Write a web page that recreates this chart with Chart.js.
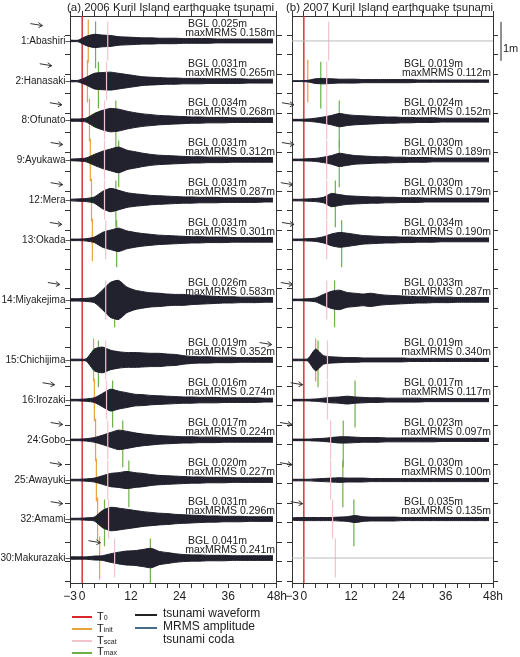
<!DOCTYPE html>
<html><head><meta charset="utf-8">
<script src="https://cdn.jsdelivr.net/npm/chart.js@4.4.0/dist/chart.umd.min.js"></script>
<style>
body{margin:0;background:#fff;font-family:"Liberation Sans",Arial,sans-serif;}
#wrap{position:relative;width:520px;height:657px;}
canvas{position:absolute;}
.lg{position:absolute;font-size:11px;color:#222;line-height:11px;white-space:nowrap;}
.lg span{font-size:7px;}
.ln{position:absolute;height:1.5px;width:20px;}
</style></head><body>
<div id="wrap">
<canvas id="ca" style="left:0;top:0" width="288" height="610"></canvas>
<canvas id="cb" style="left:280px;top:0" width="240" height="610"></canvas>
<div class="ln" style="left:72px;top:616px;background:#d62828"></div><div class="lg" style="left:97px;top:611px">T<span>0</span></div>
<div class="ln" style="left:72px;top:628px;background:#e8a33a"></div><div class="lg" style="left:97px;top:623px">T<span>init</span></div>
<div class="ln" style="left:72px;top:640px;background:#f2c4cc"></div><div class="lg" style="left:97px;top:635px">T<span>scat</span></div>
<div class="ln" style="left:72px;top:652px;background:#6fb04a"></div><div class="lg" style="left:97px;top:646px">T<span>max</span></div>
<div class="ln" style="left:135px;top:614px;background:#222;width:22px"></div><div class="lg" style="left:163px;top:608px;font-size:12px">tsunami waveform</div>
<div class="ln" style="left:135px;top:627px;background:#4a6a8a;width:22px"></div><div class="lg" style="left:163px;top:621px;font-size:12px">MRMS amplitude</div>
<div class="lg" style="left:163px;top:634px;font-size:12px">tsunami coda</div>
</div>
<script>
const stations = ['1:Abashiri','2:Hanasaki','8:Ofunato','9:Ayukawa','12:Mera','13:Okada','14:Miyakejima','15:Chichijima','16:Irozaki','24:Gobo','25:Awayuki','32:Amami','30:Makurazaki'];
const baseline = [0.64,1.67,2.67,3.69,4.72,5.74,7.28,8.82,9.85,10.87,11.9,12.9,13.9];
const hours = [-3,-1,1,3,5,7,9,11,13,15,17,19,21,23,25,27,29,31,33,35,37,39,41,43,45,47];

// waveform half-amplitude envelopes (m), 2006 event
const envA = [
 [0.02,0.02,0.12,0.17,0.15,0.14,0.11,0.1,0.09,0.08,0.08,0.07,0.07,0.07,0.06,0.06,0.06,0.06,0.05,0.05,0.05,0.05,0.05,0.05,0.05,0.05],
 [0.02,0.02,0.1,0.2,0.22,0.23,0.2,0.17,0.14,0.11,0.1,0.09,0.08,0.08,0.07,0.07,0.07,0.06,0.06,0.06,0.06,0.06,0.05,0.05,0.05,0.05],
 [0.03,0.03,0.05,0.17,0.25,0.3,0.28,0.23,0.19,0.16,0.14,0.12,0.11,0.1,0.09,0.08,0.08,0.07,0.07,0.07,0.06,0.06,0.06,0.06,0.06,0.06],
 [0.02,0.03,0.05,0.14,0.22,0.28,0.33,0.25,0.21,0.17,0.14,0.12,0.11,0.1,0.09,0.08,0.08,0.07,0.07,0.07,0.06,0.06,0.06,0.06,0.06,0.06],
 [0.02,0.03,0.04,0.08,0.22,0.3,0.25,0.19,0.16,0.14,0.12,0.11,0.1,0.09,0.08,0.08,0.07,0.07,0.07,0.06,0.06,0.06,0.06,0.06,0.05,0.05],
 [0.02,0.02,0.03,0.07,0.19,0.25,0.3,0.23,0.19,0.16,0.14,0.12,0.11,0.1,0.09,0.08,0.08,0.07,0.07,0.07,0.06,0.06,0.06,0.06,0.06,0.06],
 [0.03,0.03,0.04,0.07,0.25,0.45,0.5,0.33,0.25,0.21,0.18,0.17,0.15,0.14,0.14,0.12,0.11,0.1,0.09,0.08,0.08,0.07,0.07,0.07,0.06,0.06],
 [0.02,0.02,0.03,0.28,0.33,0.25,0.21,0.19,0.19,0.18,0.17,0.17,0.15,0.14,0.11,0.09,0.08,0.08,0.07,0.07,0.07,0.06,0.06,0.06,0.06,0.06],
 [0.02,0.02,0.03,0.06,0.17,0.28,0.23,0.19,0.15,0.14,0.12,0.11,0.1,0.09,0.08,0.08,0.07,0.07,0.07,0.06,0.06,0.06,0.06,0.06,0.05,0.05],
 [0.02,0.02,0.03,0.06,0.12,0.19,0.25,0.22,0.18,0.15,0.13,0.11,0.1,0.09,0.08,0.08,0.07,0.07,0.07,0.06,0.06,0.06,0.06,0.06,0.06,0.06],
 [0.02,0.02,0.03,0.05,0.11,0.17,0.19,0.22,0.19,0.17,0.14,0.12,0.11,0.1,0.09,0.08,0.08,0.07,0.07,0.07,0.06,0.06,0.06,0.06,0.06,0.06],
 [0.02,0.02,0.03,0.05,0.22,0.3,0.28,0.25,0.22,0.19,0.17,0.15,0.14,0.12,0.11,0.1,0.09,0.08,0.08,0.07,0.07,0.07,0.06,0.06,0.06,0.06],
 [0.03,0.03,0.03,0.05,0.06,0.11,0.15,0.18,0.19,0.22,0.25,0.17,0.14,0.11,0.09,0.08,0.08,0.07,0.07,0.07,0.06,0.06,0.06,0.06,0.06,0.06]
];
// 2007 event (null = no record)
const envB = [
 null,
 [0.01,0.01,0.02,0.06,0.07,0.06,0.05,0.05,0.05,0.04,0.04,0.04,0.04,0.04,0.04,0.04,0.03,0.03,0.03,0.03,0.03,0.03,0.03,0.03,0.03,0.03],
 [0.02,0.02,0.03,0.05,0.08,0.12,0.17,0.14,0.12,0.11,0.1,0.09,0.08,0.08,0.07,0.07,0.06,0.06,0.06,0.05,0.05,0.05,0.05,0.05,0.05,0.05],
 [0.02,0.02,0.03,0.04,0.07,0.11,0.17,0.14,0.11,0.1,0.09,0.08,0.08,0.07,0.07,0.06,0.06,0.06,0.05,0.05,0.05,0.05,0.05,0.05,0.05,0.05],
 [0.02,0.02,0.03,0.04,0.07,0.17,0.14,0.11,0.1,0.09,0.08,0.08,0.07,0.07,0.06,0.06,0.06,0.05,0.05,0.05,0.05,0.05,0.05,0.05,0.05,0.05],
 [0.02,0.02,0.03,0.04,0.08,0.15,0.19,0.17,0.14,0.11,0.1,0.09,0.08,0.08,0.07,0.07,0.06,0.06,0.06,0.05,0.05,0.05,0.05,0.05,0.05,0.05],
 [0.02,0.02,0.03,0.05,0.14,0.22,0.25,0.19,0.17,0.15,0.17,0.14,0.12,0.11,0.1,0.09,0.08,0.08,0.07,0.07,0.07,0.06,0.06,0.06,0.06,0.06],
 [0.02,0.02,0.03,0.28,0.11,0.08,0.07,0.06,0.06,0.05,0.05,0.05,0.05,0.05,0.05,0.04,0.04,0.04,0.04,0.04,0.04,0.04,0.04,0.04,0.04,0.04],
 [0.02,0.02,0.02,0.03,0.05,0.07,0.08,0.1,0.08,0.07,0.06,0.06,0.05,0.05,0.05,0.05,0.05,0.04,0.04,0.04,0.04,0.04,0.04,0.04,0.04,0.04],
 [0.02,0.02,0.02,0.03,0.04,0.06,0.08,0.08,0.07,0.06,0.06,0.06,0.05,0.05,0.05,0.05,0.05,0.05,0.05,0.04,0.04,0.04,0.04,0.04,0.04,0.04],
 [0.02,0.02,0.02,0.03,0.04,0.05,0.06,0.05,0.05,0.05,0.04,0.04,0.04,0.04,0.04,0.04,0.04,0.04,0.04,0.04,0.04,0.04,0.04,0.04,0.04,0.04],
 [0.03,0.04,0.04,0.04,0.04,0.04,0.05,0.06,0.09,0.06,0.05,0.05,0.05,0.05,0.04,0.04,0.04,0.04,0.04,0.04,0.04,0.04,0.04,0.04,0.04,0.04],
 null
];
const bglA = ['0.025','0.031','0.034','0.031','0.031','0.031','0.026','0.019','0.016','0.017','0.020','0.031','0.041'];
const mrmsA = ['0.158','0.265','0.268','0.312','0.287','0.301','0.583','0.352','0.274','0.224','0.227','0.296','0.241'];
const bglB = [null,'0.019','0.024','0.030','0.030','0.034','0.033','0.019','0.017','0.023','0.030','0.035',null];
const mrmsB = [null,'0.112','0.152','0.189','0.179','0.190','0.287','0.340','0.117','0.097','0.100','0.135',null];

// characteristic times (h)
const tInitA = [1.5,1.3,1.8,2,2.3,2.5,null,2.8,3,3.3,3.5,3.8,4.3];
const tScatA = [6.3,6,5.5,5.5,5.5,5.8,5.8,5.8,6,6.3,6.3,6.5,8];
const tMaxA  = [3.3,4,8.3,9,8.3,8.5,8,4,7.5,10,11.5,5.5,16.8];
const tArrowA = [-9.8,-7.5,-5,-4.8,-4.8,-5,-5.5,46.7,-6.8,-4.8,-5,-4.8,4.5];
const tInitB = [null,1,null,null,null,null,null,3,null,null,null,null,null];
const tScatB = [6.3,5.8,5.8,5.8,5.8,5.8,5.8,6,6,6.8,6.8,7.3,8];
const tMaxB  = [null,4.3,9,9,8,9.6,7.8,3.6,13,10,9.9,12.7,null];
const tArrowB = [null,null,-2.5,-2.5,-2.8,-2.5,-2.8,null,-0.3,-3,-3,-0.3,null];

const yMax = 14.54;

function waveSets(env){
  const sets = [];
  env.forEach((e,i)=>{
    if(!e) return;
    sets.push({data:hours.map((h,k)=>({x:h,y:baseline[i]-e[k]})),borderColor:'#1c1c28',borderWidth:1,pointRadius:0,tension:0.2,fill:false});
    sets.push({data:hours.map((h,k)=>({x:h,y:baseline[i]+e[k]})),borderColor:'#1c1c28',borderWidth:1,pointRadius:0,tension:0.2,fill:'-1',backgroundColor:'#22222e'});
    sets.push({data:hours.map((h,k)=>({x:h,y:baseline[i]-e[k]*0.45})),borderColor:'#5a7fa5',borderWidth:0.8,pointRadius:0,tension:0.3,fill:false});
  });
  return sets;
}
function markSets(times,color,half,shift){
  return times.map((t,i)=>t===null?null:{data:[{x:t,y:baseline[i]-half+shift},{x:t,y:baseline[i]+half+shift}],borderColor:color,borderWidth:1.2,pointRadius:0,fill:false}).filter(Boolean);
}
function grayLines(env){
  return env.map((e,i)=>e?null:{data:[{x:-3,y:baseline[i]},{x:48,y:baseline[i]}],borderColor:'#bbb',borderWidth:1,pointRadius:0}).filter(Boolean);
}

function makeChart(id,env,tInit,tScat,tMax,tArrow,bgl,mrms,title,pad,isA){
  const datasets = [
    ...grayLines(env),
    ...markSets(tScat,'#f2c4cc',0.5,0),
    ...waveSets(env),
    ...markSets(tInit,'#e8a33a',0.55,0),
    ...markSets(tMax,'#6fb04a',0.6,0.1),
    {data:[{x:0,y:0},{x:0,y:yMax}],borderColor:'#d62828',borderWidth:1.4,pointRadius:0}
  ];
  const fix = (w)=>s=>{ if(s.isHorizontal()) s.height=w; else s.width=w; };
  const annot = {
    id:'annot',
    afterDraw(c){
      const ctx=c.ctx, xs=c.scales.x, ys=c.scales.y, a=c.chartArea;
      ctx.save();
      ctx.fillStyle='#222';
      ctx.font='11.5px "Liberation Sans", Arial, sans-serif';
      ctx.textAlign='center'; ctx.textBaseline='middle';
      ctx.fillText(title,(a.left+a.right)/2-3,8);
      ctx.textAlign='right';
      baseline.forEach((b,i)=>{
        const y=ys.getPixelForValue(b);
        if(isA){ ctx.font='10px "Liberation Sans", Arial, sans-serif'; ctx.fillText(stations[i]+'–',a.left+1,y); }
        ctx.font='10.5px "Liberation Sans", Arial, sans-serif';
        if(bgl[i]){
          ctx.fillText('BGL '+bgl[i]+'m',a.right-30,ys.getPixelForValue(b-0.44));
          ctx.fillText('maxMRMS '+mrms[i]+'m',a.right-2,ys.getPixelForValue(b-0.21));
        }
        if(tArrow[i]!==null){
          const xt=xs.getPixelForValue(tArrow[i]), ya=ys.getPixelForValue(b-0.42);
          ctx.strokeStyle='#333'; ctx.lineWidth=1;
          ctx.beginPath(); ctx.moveTo(xt-12,ya-1); ctx.lineTo(xt,ya+1); ctx.stroke();
          ctx.beginPath(); ctx.moveTo(xt-4,ya-2); ctx.lineTo(xt,ya+1); ctx.lineTo(xt-4,ya+3); ctx.stroke();
        }
      });
      if(!isA){
        ctx.strokeStyle='#222'; ctx.lineWidth=1;
        const x=a.right+8;
        ctx.beginPath(); ctx.moveTo(x,ys.getPixelForValue(0.15)); ctx.lineTo(x,ys.getPixelForValue(1.15)); ctx.stroke();
        ctx.textAlign='left'; ctx.font='11px "Liberation Sans", Arial, sans-serif';
        ctx.fillText('1m',x+2,ys.getPixelForValue(0.85));
      }
      ctx.restore();
    }
  };
  const grid = {drawOnChartArea:false,tickLength:5,color:'#333'};
  return new Chart(document.getElementById(id),{
    type:'line',
    data:{datasets},
    options:{
      responsive:false,animation:false,
      layout:{padding:pad},
      plugins:{legend:{display:false},tooltip:{enabled:false}},
      scales:{
        x:{type:'linear',min:-3,max:48,afterFit:fix(20),
          afterBuildTicks:s=>{s.ticks=[];for(let v=-3;v<=48;v+=3)s.ticks.push({value:v});},
          grid,border:{color:'#333'},
          ticks:{autoSkip:false,maxRotation:0,padding:1,color:'#222',font:{size:12,family:'"Liberation Sans", Arial'},
            callback:v=>v===48?'48h':(v===-3?'−3':([0,12,24,36].includes(v)?String(v):''))}},
        xt:{type:'linear',position:'top',min:-3,max:48,afterFit:fix(6),
          afterBuildTicks:s=>{s.ticks=[];for(let v=-3;v<=48;v+=3)s.ticks.push({value:v});},
          grid,border:{color:'#333'},ticks:{display:false}},
        y:{type:'linear',reverse:true,min:0,max:yMax,afterFit:fix(6),
          afterBuildTicks:s=>{s.ticks=[];for(let v=0.5;v<yMax;v+=0.5)s.ticks.push({value:v});},
          grid,border:{color:'#333'},ticks:{display:false}},
        yr:{type:'linear',position:'right',reverse:true,min:0,max:yMax,afterFit:fix(6),
          afterBuildTicks:s=>{s.ticks=[];for(let v=0.5;v<yMax;v+=0.5)s.ticks.push({value:v});},
          grid,border:{color:'#333'},ticks:{display:false}}
      }
    },
    plugins:[annot]
  });
}
makeChart('ca',envA,tInitA,tScatA,tMaxA,tArrowA,bglA,mrmsA,'(a) 2006 Kuril Island earthquake tsunami',{left:64,right:1,top:10,bottom:7},true);
makeChart('cb',envB,tInitB,tScatB,tMaxB,tArrowB,bglB,mrmsB,'(b) 2007 Kuril Island earthquake tsunami',{left:6,right:21,top:10,bottom:7},false);
</script>
</body></html>
